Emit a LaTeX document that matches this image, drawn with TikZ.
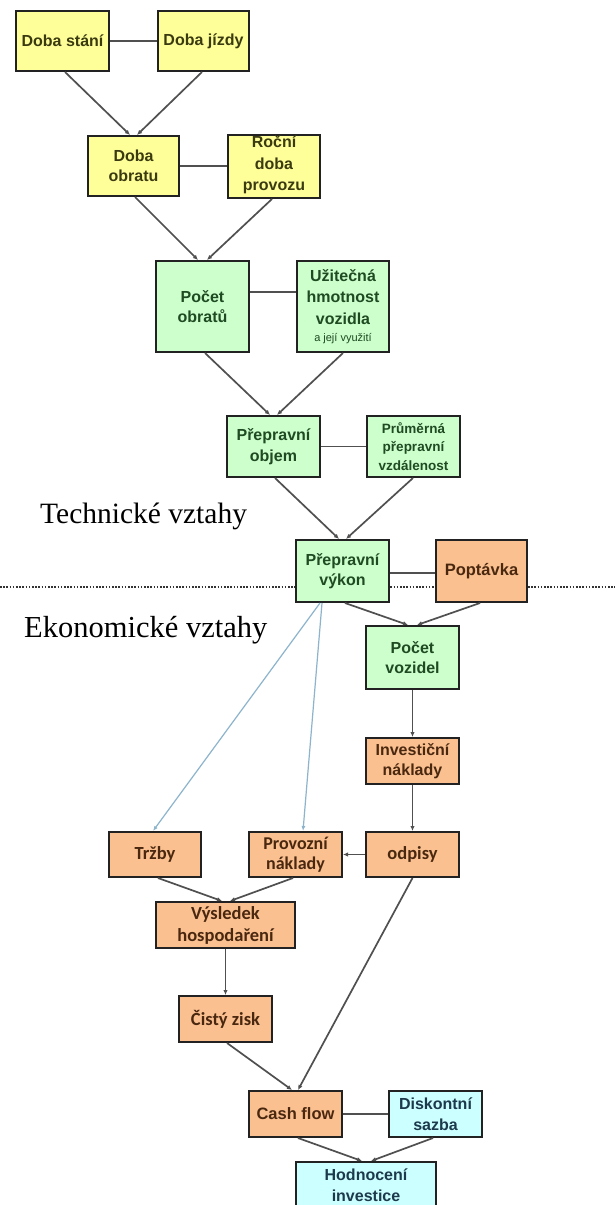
\documentclass[tikz,border=0pt]{standalone}
\usepackage{fontspec}
\setmainfont{Liberation Sans}
\newfontfamily\calfont{Carlito}
\newfontfamily\serf{Liberation Serif}
\usetikzlibrary{arrows.meta}
\definecolor{yfill}{HTML}{FFFF99}
\definecolor{gfill}{HTML}{CCFFCC}
\definecolor{ofill}{HTML}{FAC090}
\definecolor{cfill}{HTML}{CCFFFF}
\definecolor{ytext}{HTML}{3B3B12}
\definecolor{gtext}{HTML}{1F4A22}
\definecolor{otext}{HTML}{4A2810}
\definecolor{ctext}{HTML}{1C3A4C}
\definecolor{edgec}{HTML}{222222}
\definecolor{conn}{HTML}{505050}
\definecolor{bconn}{HTML}{8DB4CC}
\begin{document}
\begin{tikzpicture}[x=1pt,y=-1pt,
 box/.style={draw=edgec, line width=2pt, inner sep=1pt, align=center,
   font=\fontsize{16}{20.5}\selectfont\bfseries},
 ybox/.style={box, fill=yfill, text=ytext},
 gbox/.style={box, fill=gfill, text=gtext},
 obox/.style={box, fill=ofill, text=otext},
 cbox/.style={box, fill=cfill, text=ctext},
 calib/.style={font=\calfont\fontsize{18.5}{21}\selectfont\bfseries},
 sz/.style 2 args={minimum width=#1, minimum height=#2},
 arr/.style={draw=conn, line width=1.7pt, -{Latex[length=5pt,width=4.5pt]}},
 link/.style={draw=conn, line width=1.7pt},
 barr/.style={draw=bconn, line width=1.2pt, -{Latex[length=5pt,width=4pt]}},
 sep/.style={draw=black!80, line width=2pt, dash pattern=on 1.6pt off 1.6pt},
 lab/.style={font=\serf\fontsize{29.5}{32}\selectfont, text=black, inner sep=0pt}]

\useasboundingbox (0,0) rectangle (615,1205);
\fill[white] (0,0) rectangle (615,1205);

% separator
\coordinate (sepL) at (0,587);
\coordinate (sepR) at (615,587);
\draw[sep] (sepL) -- (sepR);

% labels
\node[lab, anchor=base west] (tech) at (40,523) {Technické vztahy};
\node[lab, anchor=base west, font=\serf\fontsize{30.5}{32}\selectfont] (ekon) at (24,637) {Ekonomické vztahy};

% technical part
\node[ybox, sz={93pt}{60pt}] (stani) at (62.5,41) {Doba stání};
\node[ybox, sz={91pt}{60pt}] (jizdy) at (203.5,41) {Doba jízdy};
\node[ybox, sz={91pt}{60pt}] (obratu) at (133.5,166) {Doba\\obratu};
\node[ybox, sz={92pt}{61pt}, font=\fontsize{16}{21.5}\selectfont\bfseries, text depth=6pt] (rocni) at (274,166.5) {Roční\\doba\\provozu};
\node[gbox, sz={93pt}{91pt}] (pocobr) at (202.5,306.5) {Počet\\obratů};
\node[gbox, sz={92pt}{91pt}, font=\fontsize{16}{21.5}\selectfont\bfseries] (uzit) at (343,306.5)
  {Užitečná\\hmotnost\\vozidla\\[-4pt]{\mdseries\fontsize{11}{13}\selectfont a její využití}};
\node[gbox, sz={93pt}{61pt}] (objem) at (273.5,446.5) {Přepravní\\objem};
\node[gbox, sz={93pt}{61pt}, font=\fontsize{13.5}{18.5}\selectfont\bfseries] (prum) at (413.5,446.5)
  {Průměrná\\přepravní\\vzdálenost};
\node[gbox, sz={93pt}{62pt}] (vykon) at (342.5,571) {Přepravní\\výkon};
\node[obox, sz={91pt}{62pt}, font=\fontsize{16.5}{20}\selectfont\bfseries] (poptavka) at (481.5,571) {Poptávka};

% economic part
\node[gbox, sz={93pt}{63pt}] (pocvoz) at (412.5,657.5) {Počet\\vozidel};
\node[obox, sz={93pt}{46pt}] (invest) at (412.5,761) {Investiční\\náklady};
\node[obox, sz={92pt}{45pt}, calib] (trzby) at (155,854.5) {Tržby};
\node[obox, sz={93pt}{45pt}, calib, font=\calfont\fontsize{18}{19.5}\selectfont\bfseries] (provozni) at (295.5,854.5) {Provozní\\náklady};
\node[obox, sz={93pt}{45pt}, calib] (odpisy) at (412.5,854.5) {odpisy};
\node[obox, sz={139pt}{46pt}, calib, font=\calfont\fontsize{18.5}{22}\selectfont\bfseries] (vysl) at (225.5,925) {Výsledek\\hospodaření};
\node[obox, sz={93pt}{46pt}, calib] (cisty) at (225.5,1019) {Čistý zisk};
\node[obox, sz={93pt}{46pt}, font=\fontsize{16.5}{20}\selectfont\bfseries] (cash) at (295.5,1114) {Cash flow};
\node[cbox, sz={93pt}{46pt}] (disk) at (435.5,1114) {Diskontní\\sazba};
\node[cbox, sz={140pt}{46pt}] (hodn) at (366,1185) {Hodnocení\\investice};

% undirected links
\draw[link] (stani.east) -- (jizdy.west);
\draw[link] (obratu.east) -- (rocni.west |- obratu.east);
\draw[link] ([yshift=14.5pt]pocobr.east) -- ([yshift=14.5pt]uzit.west);
\draw[link] (objem.east) -- (prum.west);
\draw[link] ([yshift=-2pt]vykon.east) -- ([yshift=-2pt]poptavka.west);
\draw[link] (cash.east) -- (disk.west);

% arrows
\draw[arr] ([xshift=2.5pt]stani.south) -- ([xshift=-3.5pt]obratu.north);
\draw[arr] ([xshift=-1.5pt]jizdy.south) -- ([xshift=3.5pt]obratu.north);
\draw[arr] ([xshift=1.5pt]obratu.south) -- ([xshift=-4.5pt]pocobr.north);
\draw[arr] ([xshift=-2pt]rocni.south) -- ([xshift=4.5pt]pocobr.north);
\draw[arr] ([xshift=2.5pt]pocobr.south) -- ([xshift=-3.5pt]objem.north);
\draw[arr] (uzit.south) -- ([xshift=3.5pt]objem.north);
\draw[arr] ([xshift=1.5pt]objem.south) -- ([xshift=-3.5pt]vykon.north);
\draw[arr] ([xshift=-0.5pt]prum.south) -- ([xshift=3.5pt]vykon.north);
\draw[arr] ([xshift=2.5pt]vykon.south) -- ([xshift=-4.5pt]pocvoz.north);
\draw[arr] ([xshift=-1.5pt]poptavka.south) -- ([xshift=4.5pt]pocvoz.north);
\draw[barr] ([xshift=-22.5pt]vykon.south) -- ([xshift=-2pt]trzby.north);
\draw[barr] ([xshift=-20.5pt]vykon.south) -- ([xshift=7.5pt]provozni.north);
\draw[arr] (pocvoz.south) -- (invest.north);
\draw[arr] (invest.south) -- (odpisy.north);
\draw[arr] (odpisy.west) -- (provozni.east);
\draw[arr] ([xshift=3pt]trzby.south) -- ([xshift=-3.5pt]vysl.north);
\draw[arr] ([xshift=-2.5pt]provozni.south) -- ([xshift=4.5pt]vysl.north);
\draw[arr] (vysl.south) -- (cisty.north);
\draw[arr] (odpisy.south) -- ([xshift=2.5pt]cash.north);
\draw[arr] ([xshift=1.5pt]cisty.south) -- ([xshift=-3.5pt]cash.north);
\draw[arr] ([xshift=2.5pt]cash.south) -- ([xshift=-4pt]hodn.north);
\draw[arr] ([xshift=-2.5pt]disk.south) -- ([xshift=5pt]hodn.north);
\end{tikzpicture}
\end{document}
